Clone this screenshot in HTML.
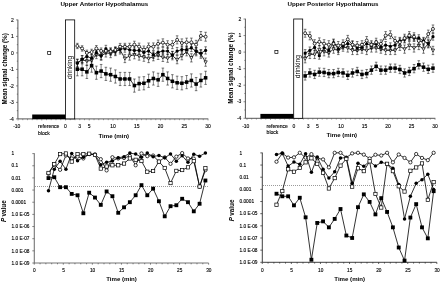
<!DOCTYPE html>
<html><head><meta charset="utf-8"><title>Hypothalamus signal change</title>
<style>html,body{margin:0;padding:0;background:#fff}body{width:440px;height:282px;overflow:hidden;font-family:"Liberation Sans",sans-serif}svg{display:block;filter:blur(0.35px)}</style>
</head><body>
<svg width="440" height="282" viewBox="0 0 440 282">
<rect width="440" height="282" fill="#fff"/>
<g stroke="#444" stroke-width="0.9" fill="none">
<path d="M17.90 19.60V118.90H208.30"/>
<path d="M16.00 118.90H17.90M16.00 102.40H17.90M16.00 85.90H17.90M16.00 69.40H17.90M16.00 52.90H17.90M16.00 36.40H17.90M16.00 19.90H17.90M16.80 110.65H17.90M16.80 94.15H17.90M16.80 77.65H17.90M16.80 61.15H17.90M16.80 44.65H17.90M16.80 28.15H17.90" stroke-width="0.6"/>
<path d="M18.00 118.90v1.6M22.75 118.90v1.3M27.50 118.90v1.3M32.25 118.90v1.3M37.00 118.90v1.3M41.75 118.90v1.6M46.50 118.90v1.3M51.25 118.90v1.3M56.00 118.90v1.3M60.75 118.90v1.3M65.50 118.90v1.6M70.25 118.90v1.3M75.00 118.90v1.3M79.75 118.90v1.3M84.50 118.90v1.3M89.25 118.90v1.6M94.00 118.90v1.3M98.75 118.90v1.3M103.50 118.90v1.3M108.25 118.90v1.3M113.00 118.90v1.6M117.75 118.90v1.3M122.50 118.90v1.3M127.25 118.90v1.3M132.00 118.90v1.3M136.75 118.90v1.6M141.50 118.90v1.3M146.25 118.90v1.3M151.00 118.90v1.3M155.75 118.90v1.3M160.50 118.90v1.6M165.25 118.90v1.3M170.00 118.90v1.3M174.75 118.90v1.3M179.50 118.90v1.3M184.25 118.90v1.6M189.00 118.90v1.3M193.75 118.90v1.3M198.50 118.90v1.3M203.25 118.90v1.3M208.00 118.90v1.6" stroke-width="0.55" stroke="#555"/>
</g>
<rect x="32.20" y="114.50" width="33.3" height="4.6" fill="#000"/>
<rect x="65.50" y="19.90" width="9.20" height="99.00" fill="#fff" stroke="#000" stroke-width="0.8"/>
<text transform="translate(72.20,67.42) rotate(-90)" font-family="Liberation Sans, sans-serif" font-size="6.6" text-anchor="middle">drinking</text>
<rect x="47.68" y="51.38" width="3.04" height="3.04" fill="#fff" stroke="#000" stroke-width="0.7"/>
<text x="104.3" y="6.05" font-family="Liberation Sans, sans-serif" font-size="6.2" font-weight="bold" text-anchor="middle">Upper Anterior Hypothalamus</text>
<text transform="translate(6.50,68.91) rotate(-90)" font-family="Liberation Sans, sans-serif" font-size="6.3" font-weight="bold" text-anchor="middle">Mean signal change (%)</text>
<text x="13.90" y="120.60" font-family="Liberation Sans, sans-serif" font-size="5.0" text-anchor="end" stroke="#000" stroke-width="0.12">-4</text>
<text x="13.90" y="104.10" font-family="Liberation Sans, sans-serif" font-size="5.0" text-anchor="end" stroke="#000" stroke-width="0.12">-3</text>
<text x="13.90" y="87.60" font-family="Liberation Sans, sans-serif" font-size="5.0" text-anchor="end" stroke="#000" stroke-width="0.12">-2</text>
<text x="13.90" y="71.10" font-family="Liberation Sans, sans-serif" font-size="5.0" text-anchor="end" stroke="#000" stroke-width="0.12">-1</text>
<text x="13.90" y="54.60" font-family="Liberation Sans, sans-serif" font-size="5.0" text-anchor="end" stroke="#000" stroke-width="0.12">0</text>
<text x="13.90" y="38.10" font-family="Liberation Sans, sans-serif" font-size="5.0" text-anchor="end" stroke="#000" stroke-width="0.12">1</text>
<text x="13.90" y="21.60" font-family="Liberation Sans, sans-serif" font-size="5.0" text-anchor="end" stroke="#000" stroke-width="0.12">2</text>
<text x="16.80" y="128.30" font-family="Liberation Sans, sans-serif" font-size="5.0" text-anchor="middle" stroke="#000" stroke-width="0.12">-10</text>
<text x="65.50" y="128.30" font-family="Liberation Sans, sans-serif" font-size="5.0" text-anchor="middle" stroke="#000" stroke-width="0.12">0</text>
<text x="79.75" y="128.30" font-family="Liberation Sans, sans-serif" font-size="5.0" text-anchor="middle" stroke="#000" stroke-width="0.12">3</text>
<text x="89.25" y="128.30" font-family="Liberation Sans, sans-serif" font-size="5.0" text-anchor="middle" stroke="#000" stroke-width="0.12">5</text>
<text x="113.00" y="128.30" font-family="Liberation Sans, sans-serif" font-size="5.0" text-anchor="middle" stroke="#000" stroke-width="0.12">10</text>
<text x="136.75" y="128.30" font-family="Liberation Sans, sans-serif" font-size="5.0" text-anchor="middle" stroke="#000" stroke-width="0.12">15</text>
<text x="160.50" y="128.30" font-family="Liberation Sans, sans-serif" font-size="5.0" text-anchor="middle" stroke="#000" stroke-width="0.12">20</text>
<text x="184.25" y="128.30" font-family="Liberation Sans, sans-serif" font-size="5.0" text-anchor="middle" stroke="#000" stroke-width="0.12">25</text>
<text x="208.00" y="128.30" font-family="Liberation Sans, sans-serif" font-size="5.0" text-anchor="middle" stroke="#000" stroke-width="0.12">30</text>
<text x="38.10" y="128.30" font-family="Liberation Sans, sans-serif" font-size="5.05" stroke="#000" stroke-width="0.12">reference</text>
<text x="38.10" y="134.80" font-family="Liberation Sans, sans-serif" font-size="5.05" stroke="#000" stroke-width="0.12">block</text>
<text x="113.80" y="137.50" font-family="Liberation Sans, sans-serif" font-size="6.1" font-weight="bold" text-anchor="middle">Time (min)</text>
<path d="M77.38 62.63V75.83M76.08 62.63h2.6M76.08 75.83h2.6M82.12 62.63V75.83M80.83 62.63h2.6M80.83 75.83h2.6M86.88 65.28V78.47M85.58 65.28h2.6M85.58 78.47h2.6M91.62 59.01V72.20M90.33 59.01h2.6M90.33 72.20h2.6M96.38 66.10V79.30M95.08 66.10h2.6M95.08 79.30h2.6M101.12 64.45V77.65M99.83 64.45h2.6M99.83 77.65h2.6M105.88 67.26V80.45M104.58 67.26h2.6M104.58 80.45h2.6M110.62 68.08V81.28M109.33 68.08h2.6M109.33 81.28h2.6M115.38 69.90V83.09M114.08 69.90h2.6M114.08 83.09h2.6M120.12 72.37V85.57M118.83 72.37h2.6M118.83 85.57h2.6M124.88 72.37V85.57M123.58 72.37h2.6M123.58 85.57h2.6M129.62 72.37V85.57M128.32 72.37h2.6M128.32 85.57h2.6M134.38 78.97V92.17M133.07 78.97h2.6M133.07 92.17h2.6M139.12 76.99V90.19M137.82 76.99h2.6M137.82 90.19h2.6M143.88 76.66V89.86M142.57 76.66h2.6M142.57 89.86h2.6M148.62 74.19V87.38M147.32 74.19h2.6M147.32 87.38h2.6M153.38 71.88V85.07M152.07 71.88h2.6M152.07 85.07h2.6M158.12 73.20V86.39M156.82 73.20h2.6M156.82 86.39h2.6M162.88 68.08V81.28M161.57 68.08h2.6M161.57 81.28h2.6M167.62 71.88V85.07M166.32 71.88h2.6M166.32 85.07h2.6M172.38 74.68V87.88M171.07 74.68h2.6M171.07 87.88h2.6M177.12 76.17V89.36M175.82 76.17h2.6M175.82 89.36h2.6M181.88 76.66V89.86M180.57 76.66h2.6M180.57 89.86h2.6M186.62 75.51V88.70M185.32 75.51h2.6M185.32 88.70h2.6M191.38 73.86V87.05M190.07 73.86h2.6M190.07 87.05h2.6M196.12 77.48V90.68M194.82 77.48h2.6M194.82 90.68h2.6M200.88 73.86V87.05M199.57 73.86h2.6M199.57 87.05h2.6M205.62 71.22V84.41M204.32 71.22h2.6M204.32 84.41h2.6" stroke="#000" stroke-width="0.5" fill="none"/>
<polyline points="77.38,69.23 82.12,69.23 86.88,71.88 91.62,65.61 96.38,72.70 101.12,71.05 105.88,73.86 110.62,74.68 115.38,76.50 120.12,78.97 124.88,78.97 129.62,78.97 134.38,85.57 139.12,83.59 143.88,83.26 148.62,80.78 153.38,78.47 158.12,79.80 162.88,74.68 167.62,78.47 172.38,81.28 177.12,82.77 181.88,83.26 186.62,82.11 191.38,80.45 196.12,84.08 200.88,80.45 205.62,77.81" fill="none" stroke="#000" stroke-width="0.8"/>
<rect x="75.61" y="67.47" width="3.52" height="3.52" fill="#000"/>
<rect x="80.36" y="67.47" width="3.52" height="3.52" fill="#000"/>
<rect x="85.11" y="70.11" width="3.52" height="3.52" fill="#000"/>
<rect x="89.86" y="63.85" width="3.52" height="3.52" fill="#000"/>
<rect x="94.61" y="70.94" width="3.52" height="3.52" fill="#000"/>
<rect x="99.36" y="69.29" width="3.52" height="3.52" fill="#000"/>
<rect x="104.11" y="72.09" width="3.52" height="3.52" fill="#000"/>
<rect x="108.86" y="72.92" width="3.52" height="3.52" fill="#000"/>
<rect x="113.61" y="74.73" width="3.52" height="3.52" fill="#000"/>
<rect x="118.36" y="77.21" width="3.52" height="3.52" fill="#000"/>
<rect x="123.11" y="77.21" width="3.52" height="3.52" fill="#000"/>
<rect x="127.86" y="77.21" width="3.52" height="3.52" fill="#000"/>
<rect x="132.62" y="83.81" width="3.52" height="3.52" fill="#000"/>
<rect x="137.37" y="81.83" width="3.52" height="3.52" fill="#000"/>
<rect x="142.12" y="81.50" width="3.52" height="3.52" fill="#000"/>
<rect x="146.87" y="79.02" width="3.52" height="3.52" fill="#000"/>
<rect x="151.62" y="76.71" width="3.52" height="3.52" fill="#000"/>
<rect x="156.37" y="78.03" width="3.52" height="3.52" fill="#000"/>
<rect x="161.12" y="72.92" width="3.52" height="3.52" fill="#000"/>
<rect x="165.87" y="76.71" width="3.52" height="3.52" fill="#000"/>
<rect x="170.62" y="79.52" width="3.52" height="3.52" fill="#000"/>
<rect x="175.37" y="81.00" width="3.52" height="3.52" fill="#000"/>
<rect x="180.12" y="81.50" width="3.52" height="3.52" fill="#000"/>
<rect x="184.87" y="80.34" width="3.52" height="3.52" fill="#000"/>
<rect x="189.62" y="78.69" width="3.52" height="3.52" fill="#000"/>
<rect x="194.37" y="82.32" width="3.52" height="3.52" fill="#000"/>
<rect x="199.12" y="78.69" width="3.52" height="3.52" fill="#000"/>
<rect x="203.87" y="76.05" width="3.52" height="3.52" fill="#000"/>
<path d="M77.38 59.00V67.25M76.08 59.00h2.6M76.08 67.25h2.6M82.12 55.70V63.95M80.83 55.70h2.6M80.83 63.95h2.6M86.88 57.02V65.28M85.58 57.02h2.6M85.58 65.28h2.6M91.62 56.20V64.45M90.33 56.20h2.6M90.33 64.45h2.6M96.38 50.42V58.67M95.08 50.42h2.6M95.08 58.67h2.6M101.12 52.07V60.32M99.83 52.07h2.6M99.83 60.32h2.6M105.88 48.77V57.02M104.58 48.77h2.6M104.58 57.02h2.6M110.62 49.43V57.68M109.33 49.43h2.6M109.33 57.68h2.6M115.38 47.45V55.70M114.08 47.45h2.6M114.08 55.70h2.6M120.12 45.80V54.05M118.83 45.80h2.6M118.83 54.05h2.6M124.88 54.38V62.63M123.58 54.38h2.6M123.58 62.63h2.6M129.62 51.91V60.16M128.32 51.91h2.6M128.32 60.16h2.6M134.38 50.59V58.84M133.07 50.59h2.6M133.07 58.84h2.6M139.12 51.91V60.16M137.82 51.91h2.6M137.82 60.16h2.6M143.88 53.06V61.31M142.57 53.06h2.6M142.57 61.31h2.6M148.62 54.38V62.63M147.32 54.38h2.6M147.32 62.63h2.6M153.38 52.57V60.82M152.07 52.57h2.6M152.07 60.82h2.6M158.12 51.25V59.50M156.82 51.25h2.6M156.82 59.50h2.6M162.88 53.23V61.48M161.57 53.23h2.6M161.57 61.48h2.6M167.62 54.05V62.30M166.32 54.05h2.6M166.32 62.30h2.6M172.38 51.58V59.83M171.07 51.58h2.6M171.07 59.83h2.6M177.12 55.54V63.79M175.82 55.54h2.6M175.82 63.79h2.6M181.88 51.58V59.83M180.57 51.58h2.6M180.57 59.83h2.6M186.62 47.62V55.87M185.32 47.62h2.6M185.32 55.87h2.6M191.38 53.73V61.98M190.07 53.73h2.6M190.07 61.98h2.6M196.12 47.62V55.87M194.82 47.62h2.6M194.82 55.87h2.6M200.88 50.09V58.34M199.57 50.09h2.6M199.57 58.34h2.6M205.62 58.02V66.27M204.32 58.02h2.6M204.32 66.27h2.6" stroke="#000" stroke-width="0.5" fill="none"/>
<polyline points="77.38,63.13 82.12,59.83 86.88,61.15 91.62,60.32 96.38,54.55 101.12,56.20 105.88,52.90 110.62,53.56 115.38,51.58 120.12,49.93 124.88,58.51 129.62,56.03 134.38,54.71 139.12,56.03 143.88,57.19 148.62,58.51 153.38,56.70 158.12,55.38 162.88,57.35 167.62,58.18 172.38,55.70 177.12,59.66 181.88,55.70 186.62,51.74 191.38,57.85 196.12,51.74 200.88,54.22 205.62,62.14" fill="none" stroke="#000" stroke-width="0.8"/>
<path d="M75.74 61.82L79.01 61.82L77.38 64.76Z" fill="#fff" stroke="#000" stroke-width="0.7"/>
<path d="M80.49 58.52L83.76 58.52L82.12 61.46Z" fill="#fff" stroke="#000" stroke-width="0.7"/>
<path d="M85.24 59.84L88.51 59.84L86.88 62.78Z" fill="#fff" stroke="#000" stroke-width="0.7"/>
<path d="M89.99 59.02L93.26 59.02L91.62 61.96Z" fill="#fff" stroke="#000" stroke-width="0.7"/>
<path d="M94.74 53.24L98.01 53.24L96.38 56.18Z" fill="#fff" stroke="#000" stroke-width="0.7"/>
<path d="M99.49 54.89L102.76 54.89L101.12 57.83Z" fill="#fff" stroke="#000" stroke-width="0.7"/>
<path d="M104.24 51.59L107.51 51.59L105.88 54.53Z" fill="#fff" stroke="#000" stroke-width="0.7"/>
<path d="M108.99 52.25L112.26 52.25L110.62 55.19Z" fill="#fff" stroke="#000" stroke-width="0.7"/>
<path d="M113.74 50.27L117.01 50.27L115.38 53.21Z" fill="#fff" stroke="#000" stroke-width="0.7"/>
<path d="M118.49 48.62L121.76 48.62L120.12 51.56Z" fill="#fff" stroke="#000" stroke-width="0.7"/>
<path d="M123.24 57.20L126.51 57.20L124.88 60.14Z" fill="#fff" stroke="#000" stroke-width="0.7"/>
<path d="M127.99 54.73L131.26 54.73L129.62 57.67Z" fill="#fff" stroke="#000" stroke-width="0.7"/>
<path d="M132.74 53.41L136.01 53.41L134.38 56.35Z" fill="#fff" stroke="#000" stroke-width="0.7"/>
<path d="M137.49 54.73L140.76 54.73L139.12 57.67Z" fill="#fff" stroke="#000" stroke-width="0.7"/>
<path d="M142.24 55.88L145.51 55.88L143.88 58.82Z" fill="#fff" stroke="#000" stroke-width="0.7"/>
<path d="M146.99 57.20L150.26 57.20L148.62 60.14Z" fill="#fff" stroke="#000" stroke-width="0.7"/>
<path d="M151.74 55.39L155.01 55.39L153.38 58.33Z" fill="#fff" stroke="#000" stroke-width="0.7"/>
<path d="M156.49 54.07L159.76 54.07L158.12 57.01Z" fill="#fff" stroke="#000" stroke-width="0.7"/>
<path d="M161.24 56.05L164.51 56.05L162.88 58.99Z" fill="#fff" stroke="#000" stroke-width="0.7"/>
<path d="M165.99 56.87L169.26 56.87L167.62 59.81Z" fill="#fff" stroke="#000" stroke-width="0.7"/>
<path d="M170.74 54.40L174.01 54.40L172.38 57.34Z" fill="#fff" stroke="#000" stroke-width="0.7"/>
<path d="M175.49 58.36L178.76 58.36L177.12 61.30Z" fill="#fff" stroke="#000" stroke-width="0.7"/>
<path d="M180.24 54.40L183.51 54.40L181.88 57.34Z" fill="#fff" stroke="#000" stroke-width="0.7"/>
<path d="M184.99 50.44L188.26 50.44L186.62 53.38Z" fill="#fff" stroke="#000" stroke-width="0.7"/>
<path d="M189.74 56.54L193.01 56.54L191.38 59.48Z" fill="#fff" stroke="#000" stroke-width="0.7"/>
<path d="M194.49 50.44L197.76 50.44L196.12 53.38Z" fill="#fff" stroke="#000" stroke-width="0.7"/>
<path d="M199.24 52.91L202.51 52.91L200.88 55.85Z" fill="#fff" stroke="#000" stroke-width="0.7"/>
<path d="M203.99 60.83L207.26 60.83L205.62 63.77Z" fill="#fff" stroke="#000" stroke-width="0.7"/>
<path d="M77.38 59.50V66.76M76.08 59.50h2.6M76.08 66.76h2.6M82.12 55.54V62.80M80.83 55.54h2.6M80.83 62.80h2.6M86.88 52.90V60.16M85.58 52.90h2.6M85.58 60.16h2.6M91.62 54.55V61.81M90.33 54.55h2.6M90.33 61.81h2.6M96.38 48.94V56.20M95.08 48.94h2.6M95.08 56.20h2.6M101.12 52.24V59.50M99.83 52.24h2.6M99.83 59.50h2.6M105.88 45.31V52.57M104.58 45.31h2.6M104.58 52.57h2.6M110.62 47.95V55.21M109.33 47.95h2.6M109.33 55.21h2.6M115.38 47.62V54.88M114.08 47.62h2.6M114.08 54.88h2.6M120.12 45.47V52.73M118.83 45.47h2.6M118.83 52.73h2.6M124.88 44.98V52.24M123.58 44.98h2.6M123.58 52.24h2.6M129.62 46.13V53.40M128.32 46.13h2.6M128.32 53.40h2.6M134.38 46.79V54.05M133.07 46.79h2.6M133.07 54.05h2.6M139.12 46.79V54.05M137.82 46.79h2.6M137.82 54.05h2.6M143.88 48.61V55.87M142.57 48.61h2.6M142.57 55.87h2.6M148.62 47.45V54.72M147.32 47.45h2.6M147.32 54.72h2.6M153.38 51.08V58.34M152.07 51.08h2.6M152.07 58.34h2.6M158.12 48.61V55.87M156.82 48.61h2.6M156.82 55.87h2.6M162.88 47.45V54.72M161.57 47.45h2.6M161.57 54.72h2.6M167.62 47.45V54.72M166.32 47.45h2.6M166.32 54.72h2.6M172.38 51.25V58.51M171.07 51.25h2.6M171.07 58.51h2.6M177.12 47.45V54.72M175.82 47.45h2.6M175.82 54.72h2.6M181.88 45.97V53.23M180.57 45.97h2.6M180.57 53.23h2.6M186.62 45.97V53.23M185.32 45.97h2.6M185.32 53.23h2.6M191.38 44.32V51.58M190.07 44.32h2.6M190.07 51.58h2.6M196.12 47.45V54.72M194.82 47.45h2.6M194.82 54.72h2.6M200.88 49.60V56.86M199.57 49.60h2.6M199.57 56.86h2.6M205.62 46.79V54.05M204.32 46.79h2.6M204.32 54.05h2.6" stroke="#000" stroke-width="0.5" fill="none"/>
<polyline points="77.38,63.13 82.12,59.17 86.88,56.53 91.62,58.18 96.38,52.57 101.12,55.87 105.88,48.94 110.62,51.58 115.38,51.25 120.12,49.10 124.88,48.61 129.62,49.77 134.38,50.42 139.12,50.42 143.88,52.24 148.62,51.09 153.38,54.71 158.12,52.24 162.88,51.09 167.62,51.09 172.38,54.88 177.12,51.09 181.88,49.60 186.62,49.60 191.38,47.95 196.12,51.09 200.88,53.23 205.62,50.42" fill="none" stroke="#000" stroke-width="0.8"/>
<circle cx="77.38" cy="63.13" r="1.60" fill="#000"/>
<circle cx="82.12" cy="59.17" r="1.60" fill="#000"/>
<circle cx="86.88" cy="56.53" r="1.60" fill="#000"/>
<circle cx="91.62" cy="58.18" r="1.60" fill="#000"/>
<circle cx="96.38" cy="52.57" r="1.60" fill="#000"/>
<circle cx="101.12" cy="55.87" r="1.60" fill="#000"/>
<circle cx="105.88" cy="48.94" r="1.60" fill="#000"/>
<circle cx="110.62" cy="51.58" r="1.60" fill="#000"/>
<circle cx="115.38" cy="51.25" r="1.60" fill="#000"/>
<circle cx="120.12" cy="49.10" r="1.60" fill="#000"/>
<circle cx="124.88" cy="48.61" r="1.60" fill="#000"/>
<circle cx="129.62" cy="49.77" r="1.60" fill="#000"/>
<circle cx="134.38" cy="50.42" r="1.60" fill="#000"/>
<circle cx="139.12" cy="50.42" r="1.60" fill="#000"/>
<circle cx="143.88" cy="52.24" r="1.60" fill="#000"/>
<circle cx="148.62" cy="51.09" r="1.60" fill="#000"/>
<circle cx="153.38" cy="54.71" r="1.60" fill="#000"/>
<circle cx="158.12" cy="52.24" r="1.60" fill="#000"/>
<circle cx="162.88" cy="51.09" r="1.60" fill="#000"/>
<circle cx="167.62" cy="51.09" r="1.60" fill="#000"/>
<circle cx="172.38" cy="54.88" r="1.60" fill="#000"/>
<circle cx="177.12" cy="51.09" r="1.60" fill="#000"/>
<circle cx="181.88" cy="49.60" r="1.60" fill="#000"/>
<circle cx="186.62" cy="49.60" r="1.60" fill="#000"/>
<circle cx="191.38" cy="47.95" r="1.60" fill="#000"/>
<circle cx="196.12" cy="51.09" r="1.60" fill="#000"/>
<circle cx="200.88" cy="53.23" r="1.60" fill="#000"/>
<circle cx="205.62" cy="50.42" r="1.60" fill="#000"/>
<path d="M77.38 43.33V48.61M76.08 43.33h2.6M76.08 48.61h2.6M82.12 45.74V51.15M80.83 45.74h2.6M80.83 51.15h2.6M86.88 50.13V55.67M85.58 50.13h2.6M85.58 55.67h2.6M91.62 49.24V54.91M90.33 49.24h2.6M90.33 54.91h2.6M96.38 45.54V51.35M95.08 45.54h2.6M95.08 51.35h2.6M101.12 47.95V53.89M99.83 47.95h2.6M99.83 53.89h2.6M105.88 47.88V53.96M104.58 47.88h2.6M104.58 53.96h2.6M110.62 48.13V54.37M109.33 48.13h2.6M109.33 54.37h2.6M115.38 46.75V53.11M114.08 46.75h2.6M114.08 53.11h2.6M120.12 43.38V49.88M118.83 43.38h2.6M118.83 49.88h2.6M124.88 43.31V49.95M123.58 43.31h2.6M123.58 49.95h2.6M129.62 43.25V50.01M128.32 43.25h2.6M128.32 50.01h2.6M134.38 41.20V48.10M133.07 41.20h2.6M133.07 48.10h2.6M139.12 43.12V50.14M137.82 43.12h2.6M137.82 50.14h2.6M143.88 46.02V53.18M142.57 46.02h2.6M142.57 53.18h2.6M148.62 42.98V50.28M147.32 42.98h2.6M147.32 50.28h2.6M153.38 42.92V50.34M152.07 42.92h2.6M152.07 50.34h2.6M158.12 40.05V47.60M156.82 40.05h2.6M156.82 47.60h2.6M162.88 38.83V46.51M161.57 38.83h2.6M161.57 46.51h2.6M167.62 40.74V48.56M166.32 40.74h2.6M166.32 48.56h2.6M172.38 40.67V48.63M171.07 40.67h2.6M171.07 48.63h2.6M177.12 35.81V43.92M175.82 35.81h2.6M175.82 43.92h2.6M181.88 38.88V47.12M180.57 38.88h2.6M180.57 47.12h2.6M186.62 38.15V46.53M185.32 38.15h2.6M185.32 46.53h2.6M191.38 38.08V46.60M190.07 38.08h2.6M190.07 46.60h2.6M196.12 40.33V48.97M194.82 40.33h2.6M194.82 48.97h2.6M200.88 31.52V40.29M199.57 31.52h2.6M199.57 40.29h2.6M205.62 32.28V41.19M204.32 32.28h2.6M204.32 41.19h2.6" stroke="#000" stroke-width="0.5" fill="none"/>
<polyline points="77.38,45.97 82.12,48.45 86.88,52.90 91.62,52.07 96.38,48.45 101.12,50.92 105.88,50.92 110.62,51.25 115.38,49.93 120.12,46.63 124.88,46.63 129.62,46.63 134.38,44.65 139.12,46.63 143.88,49.60 148.62,46.63 153.38,46.63 158.12,43.82 162.88,42.67 167.62,44.65 172.38,44.65 177.12,39.86 181.88,43.00 186.62,42.34 191.38,42.34 196.12,44.65 200.88,35.91 205.62,36.73" fill="none" stroke="#000" stroke-width="0.8"/>
<circle cx="77.38" cy="45.97" r="1.50" fill="#fff" stroke="#000" stroke-width="0.75"/>
<circle cx="82.12" cy="48.45" r="1.50" fill="#fff" stroke="#000" stroke-width="0.75"/>
<circle cx="86.88" cy="52.90" r="1.50" fill="#fff" stroke="#000" stroke-width="0.75"/>
<circle cx="91.62" cy="52.07" r="1.50" fill="#fff" stroke="#000" stroke-width="0.75"/>
<circle cx="96.38" cy="48.45" r="1.50" fill="#fff" stroke="#000" stroke-width="0.75"/>
<circle cx="101.12" cy="50.92" r="1.50" fill="#fff" stroke="#000" stroke-width="0.75"/>
<circle cx="105.88" cy="50.92" r="1.50" fill="#fff" stroke="#000" stroke-width="0.75"/>
<circle cx="110.62" cy="51.25" r="1.50" fill="#fff" stroke="#000" stroke-width="0.75"/>
<circle cx="115.38" cy="49.93" r="1.50" fill="#fff" stroke="#000" stroke-width="0.75"/>
<circle cx="120.12" cy="46.63" r="1.50" fill="#fff" stroke="#000" stroke-width="0.75"/>
<circle cx="124.88" cy="46.63" r="1.50" fill="#fff" stroke="#000" stroke-width="0.75"/>
<circle cx="129.62" cy="46.63" r="1.50" fill="#fff" stroke="#000" stroke-width="0.75"/>
<circle cx="134.38" cy="44.65" r="1.50" fill="#fff" stroke="#000" stroke-width="0.75"/>
<circle cx="139.12" cy="46.63" r="1.50" fill="#fff" stroke="#000" stroke-width="0.75"/>
<circle cx="143.88" cy="49.60" r="1.50" fill="#fff" stroke="#000" stroke-width="0.75"/>
<circle cx="148.62" cy="46.63" r="1.50" fill="#fff" stroke="#000" stroke-width="0.75"/>
<circle cx="153.38" cy="46.63" r="1.50" fill="#fff" stroke="#000" stroke-width="0.75"/>
<circle cx="158.12" cy="43.82" r="1.50" fill="#fff" stroke="#000" stroke-width="0.75"/>
<circle cx="162.88" cy="42.67" r="1.50" fill="#fff" stroke="#000" stroke-width="0.75"/>
<circle cx="167.62" cy="44.65" r="1.50" fill="#fff" stroke="#000" stroke-width="0.75"/>
<circle cx="172.38" cy="44.65" r="1.50" fill="#fff" stroke="#000" stroke-width="0.75"/>
<circle cx="177.12" cy="39.86" r="1.50" fill="#fff" stroke="#000" stroke-width="0.75"/>
<circle cx="181.88" cy="43.00" r="1.50" fill="#fff" stroke="#000" stroke-width="0.75"/>
<circle cx="186.62" cy="42.34" r="1.50" fill="#fff" stroke="#000" stroke-width="0.75"/>
<circle cx="191.38" cy="42.34" r="1.50" fill="#fff" stroke="#000" stroke-width="0.75"/>
<circle cx="196.12" cy="44.65" r="1.50" fill="#fff" stroke="#000" stroke-width="0.75"/>
<circle cx="200.88" cy="35.91" r="1.50" fill="#fff" stroke="#000" stroke-width="0.75"/>
<circle cx="205.62" cy="36.73" r="1.50" fill="#fff" stroke="#000" stroke-width="0.75"/>
<g stroke="#444" stroke-width="0.9" fill="none">
<path d="M245.40 18.70V118.30H435.30"/>
<path d="M243.50 118.30H245.40M243.50 101.75H245.40M243.50 85.20H245.40M243.50 68.65H245.40M243.50 52.10H245.40M243.50 35.55H245.40M243.50 19.00H245.40M244.30 110.03H245.40M244.30 93.47H245.40M244.30 76.93H245.40M244.30 60.38H245.40M244.30 43.83H245.40M244.30 27.27H245.40" stroke-width="0.6"/>
<path d="M247.00 118.30v1.6M251.70 118.30v1.3M256.40 118.30v1.3M261.10 118.30v1.3M265.80 118.30v1.3M270.50 118.30v1.6M275.20 118.30v1.3M279.90 118.30v1.3M284.60 118.30v1.3M289.30 118.30v1.3M294.00 118.30v1.6M298.70 118.30v1.3M303.40 118.30v1.3M308.10 118.30v1.3M312.80 118.30v1.3M317.50 118.30v1.6M322.20 118.30v1.3M326.90 118.30v1.3M331.60 118.30v1.3M336.30 118.30v1.3M341.00 118.30v1.6M345.70 118.30v1.3M350.40 118.30v1.3M355.10 118.30v1.3M359.80 118.30v1.3M364.50 118.30v1.6M369.20 118.30v1.3M373.90 118.30v1.3M378.60 118.30v1.3M383.30 118.30v1.3M388.00 118.30v1.6M392.70 118.30v1.3M397.40 118.30v1.3M402.10 118.30v1.3M406.80 118.30v1.3M411.50 118.30v1.6M416.20 118.30v1.3M420.90 118.30v1.3M425.60 118.30v1.3M430.30 118.30v1.3M435.00 118.30v1.6" stroke-width="0.55" stroke="#555"/>
</g>
<rect x="260.40" y="113.90" width="33.3" height="4.6" fill="#000"/>
<rect x="293.70" y="19.00" width="9.00" height="99.30" fill="#fff" stroke="#000" stroke-width="0.8"/>
<text transform="translate(300.30,66.66) rotate(-90)" font-family="Liberation Sans, sans-serif" font-size="6.6" text-anchor="middle">drinking</text>
<rect x="274.88" y="50.58" width="3.04" height="3.04" fill="#fff" stroke="#000" stroke-width="0.7"/>
<text x="333.0" y="6.05" font-family="Liberation Sans, sans-serif" font-size="6.2" font-weight="bold" text-anchor="middle">Upper Posterior Hypothalamus</text>
<text transform="translate(233.30,68.15) rotate(-90)" font-family="Liberation Sans, sans-serif" font-size="6.3" font-weight="bold" text-anchor="middle">Mean signal change (%)</text>
<text x="241.40" y="120.00" font-family="Liberation Sans, sans-serif" font-size="5.0" text-anchor="end" stroke="#000" stroke-width="0.12">-4</text>
<text x="241.40" y="103.45" font-family="Liberation Sans, sans-serif" font-size="5.0" text-anchor="end" stroke="#000" stroke-width="0.12">-3</text>
<text x="241.40" y="86.90" font-family="Liberation Sans, sans-serif" font-size="5.0" text-anchor="end" stroke="#000" stroke-width="0.12">-2</text>
<text x="241.40" y="70.35" font-family="Liberation Sans, sans-serif" font-size="5.0" text-anchor="end" stroke="#000" stroke-width="0.12">-1</text>
<text x="241.40" y="53.80" font-family="Liberation Sans, sans-serif" font-size="5.0" text-anchor="end" stroke="#000" stroke-width="0.12">0</text>
<text x="241.40" y="37.25" font-family="Liberation Sans, sans-serif" font-size="5.0" text-anchor="end" stroke="#000" stroke-width="0.12">1</text>
<text x="241.40" y="20.70" font-family="Liberation Sans, sans-serif" font-size="5.0" text-anchor="end" stroke="#000" stroke-width="0.12">2</text>
<text x="245.80" y="127.70" font-family="Liberation Sans, sans-serif" font-size="5.0" text-anchor="middle" stroke="#000" stroke-width="0.12">-10</text>
<text x="294.00" y="127.70" font-family="Liberation Sans, sans-serif" font-size="5.0" text-anchor="middle" stroke="#000" stroke-width="0.12">0</text>
<text x="308.10" y="127.70" font-family="Liberation Sans, sans-serif" font-size="5.0" text-anchor="middle" stroke="#000" stroke-width="0.12">3</text>
<text x="317.50" y="127.70" font-family="Liberation Sans, sans-serif" font-size="5.0" text-anchor="middle" stroke="#000" stroke-width="0.12">5</text>
<text x="341.00" y="127.70" font-family="Liberation Sans, sans-serif" font-size="5.0" text-anchor="middle" stroke="#000" stroke-width="0.12">10</text>
<text x="364.50" y="127.70" font-family="Liberation Sans, sans-serif" font-size="5.0" text-anchor="middle" stroke="#000" stroke-width="0.12">15</text>
<text x="388.00" y="127.70" font-family="Liberation Sans, sans-serif" font-size="5.0" text-anchor="middle" stroke="#000" stroke-width="0.12">20</text>
<text x="411.50" y="127.70" font-family="Liberation Sans, sans-serif" font-size="5.0" text-anchor="middle" stroke="#000" stroke-width="0.12">25</text>
<text x="435.00" y="127.70" font-family="Liberation Sans, sans-serif" font-size="5.0" text-anchor="middle" stroke="#000" stroke-width="0.12">30</text>
<text x="266.60" y="127.70" font-family="Liberation Sans, sans-serif" font-size="5.05" stroke="#000" stroke-width="0.12">reference</text>
<text x="266.60" y="134.20" font-family="Liberation Sans, sans-serif" font-size="5.05" stroke="#000" stroke-width="0.12">block</text>
<text x="341.80" y="136.90" font-family="Liberation Sans, sans-serif" font-size="6.1" font-weight="bold" text-anchor="middle">Time (min)</text>
<path d="M305.14 71.79V80.07M303.84 71.79h2.6M303.84 80.07h2.6M309.87 68.82V77.09M308.57 68.82h2.6M308.57 77.09h2.6M314.61 70.30V78.58M313.31 70.30h2.6M313.31 78.58h2.6M319.34 67.99V76.26M318.04 67.99h2.6M318.04 76.26h2.6M324.08 68.32V76.59M322.78 68.32h2.6M322.78 76.59h2.6M328.81 69.48V77.75M327.51 69.48h2.6M327.51 77.75h2.6M333.55 69.48V77.75M332.25 69.48h2.6M332.25 77.75h2.6M338.28 68.32V76.59M336.98 68.32h2.6M336.98 76.59h2.6M343.02 68.82V77.09M341.72 68.82h2.6M341.72 77.09h2.6M347.75 71.13V79.41M346.45 71.13h2.6M346.45 79.41h2.6M352.49 68.82V77.09M351.19 68.82h2.6M351.19 77.09h2.6M357.22 67.33V75.60M355.92 67.33h2.6M355.92 75.60h2.6M361.96 70.30V78.58M360.66 70.30h2.6M360.66 78.58h2.6M366.69 69.48V77.75M365.39 69.48h2.6M365.39 77.75h2.6M371.43 66.00V74.28M370.13 66.00h2.6M370.13 74.28h2.6M376.16 62.20V70.47M374.86 62.20h2.6M374.86 70.47h2.6M380.90 66.00V74.28M379.60 66.00h2.6M379.60 74.28h2.6M385.63 66.00V74.28M384.33 66.00h2.6M384.33 74.28h2.6M390.37 64.02V72.29M389.07 64.02h2.6M389.07 72.29h2.6M395.10 64.02V72.29M393.80 64.02h2.6M393.80 72.29h2.6M399.84 65.34V73.62M398.54 65.34h2.6M398.54 73.62h2.6M404.57 68.82V77.09M403.27 68.82h2.6M403.27 77.09h2.6M409.31 67.33V75.60M408.01 67.33h2.6M408.01 75.60h2.6M414.04 64.51V72.79M412.74 64.51h2.6M412.74 72.79h2.6M418.78 60.71V68.98M417.48 60.71h2.6M417.48 68.98h2.6M423.51 63.02V71.30M422.21 63.02h2.6M422.21 71.30h2.6M428.25 65.17V73.45M426.95 65.17h2.6M426.95 73.45h2.6M432.98 64.02V72.29M431.68 64.02h2.6M431.68 72.29h2.6" stroke="#000" stroke-width="0.5" fill="none"/>
<polyline points="305.14,75.93 309.87,72.95 314.61,74.44 319.34,72.13 324.08,72.46 328.81,73.62 333.55,73.62 338.28,72.46 343.02,72.95 347.75,75.27 352.49,72.95 357.22,71.46 361.96,74.44 366.69,73.62 371.43,70.14 376.16,66.33 380.90,70.14 385.63,70.14 390.37,68.15 395.10,68.15 399.84,69.48 404.57,72.95 409.31,71.46 414.04,68.65 418.78,64.84 423.51,67.16 428.25,69.31 432.98,68.15" fill="none" stroke="#000" stroke-width="0.8"/>
<rect x="303.38" y="74.17" width="3.52" height="3.52" fill="#000"/>
<rect x="308.11" y="71.19" width="3.52" height="3.52" fill="#000"/>
<rect x="312.85" y="72.68" width="3.52" height="3.52" fill="#000"/>
<rect x="317.58" y="70.37" width="3.52" height="3.52" fill="#000"/>
<rect x="322.32" y="70.70" width="3.52" height="3.52" fill="#000"/>
<rect x="327.05" y="71.86" width="3.52" height="3.52" fill="#000"/>
<rect x="331.79" y="71.86" width="3.52" height="3.52" fill="#000"/>
<rect x="336.52" y="70.70" width="3.52" height="3.52" fill="#000"/>
<rect x="341.26" y="71.19" width="3.52" height="3.52" fill="#000"/>
<rect x="345.99" y="73.51" width="3.52" height="3.52" fill="#000"/>
<rect x="350.73" y="71.19" width="3.52" height="3.52" fill="#000"/>
<rect x="355.46" y="69.70" width="3.52" height="3.52" fill="#000"/>
<rect x="360.20" y="72.68" width="3.52" height="3.52" fill="#000"/>
<rect x="364.93" y="71.86" width="3.52" height="3.52" fill="#000"/>
<rect x="369.67" y="68.38" width="3.52" height="3.52" fill="#000"/>
<rect x="374.40" y="64.57" width="3.52" height="3.52" fill="#000"/>
<rect x="379.14" y="68.38" width="3.52" height="3.52" fill="#000"/>
<rect x="383.87" y="68.38" width="3.52" height="3.52" fill="#000"/>
<rect x="388.61" y="66.39" width="3.52" height="3.52" fill="#000"/>
<rect x="393.34" y="66.39" width="3.52" height="3.52" fill="#000"/>
<rect x="398.08" y="67.72" width="3.52" height="3.52" fill="#000"/>
<rect x="402.81" y="71.19" width="3.52" height="3.52" fill="#000"/>
<rect x="407.55" y="69.70" width="3.52" height="3.52" fill="#000"/>
<rect x="412.28" y="66.89" width="3.52" height="3.52" fill="#000"/>
<rect x="417.02" y="63.08" width="3.52" height="3.52" fill="#000"/>
<rect x="421.75" y="65.40" width="3.52" height="3.52" fill="#000"/>
<rect x="426.49" y="67.55" width="3.52" height="3.52" fill="#000"/>
<rect x="431.22" y="66.39" width="3.52" height="3.52" fill="#000"/>
<path d="M305.14 54.58V62.86M303.84 54.58h2.6M303.84 62.86h2.6M309.87 50.28V58.55M308.57 50.28h2.6M308.57 58.55h2.6M314.61 50.28V58.55M313.31 50.28h2.6M313.31 58.55h2.6M319.34 45.48V53.76M318.04 45.48h2.6M318.04 53.76h2.6M324.08 47.63V55.91M322.78 47.63h2.6M322.78 55.91h2.6M328.81 48.79V57.07M327.51 48.79h2.6M327.51 57.07h2.6M333.55 44.98V53.26M332.25 44.98h2.6M332.25 53.26h2.6M338.28 46.31V54.58M336.98 46.31h2.6M336.98 54.58h2.6M343.02 43.00V51.27M341.72 43.00h2.6M341.72 51.27h2.6M347.75 43.82V52.10M346.45 43.82h2.6M346.45 52.10h2.6M352.49 46.31V54.58M351.19 46.31h2.6M351.19 54.58h2.6M357.22 46.31V54.58M355.92 46.31h2.6M355.92 54.58h2.6M361.96 44.98V53.26M360.66 44.98h2.6M360.66 53.26h2.6M366.69 46.31V54.58M365.39 46.31h2.6M365.39 54.58h2.6M371.43 43.82V52.10M370.13 43.82h2.6M370.13 52.10h2.6M376.16 43.82V52.10M374.86 43.82h2.6M374.86 52.10h2.6M380.90 44.98V53.26M379.60 44.98h2.6M379.60 53.26h2.6M385.63 46.31V54.58M384.33 46.31h2.6M384.33 54.58h2.6M390.37 46.31V54.58M389.07 46.31h2.6M389.07 54.58h2.6M395.10 46.31V54.58M393.80 46.31h2.6M393.80 54.58h2.6M399.84 42.17V50.45M398.54 42.17h2.6M398.54 50.45h2.6M404.57 44.98V53.26M403.27 44.98h2.6M403.27 53.26h2.6M409.31 41.34V49.62M408.01 41.34h2.6M408.01 49.62h2.6M414.04 43.82V52.10M412.74 43.82h2.6M412.74 52.10h2.6M418.78 41.34V49.62M417.48 41.34h2.6M417.48 49.62h2.6M423.51 44.98V53.26M422.21 44.98h2.6M422.21 53.26h2.6M428.25 39.69V47.96M426.95 39.69h2.6M426.95 47.96h2.6M432.98 46.31V54.58M431.68 46.31h2.6M431.68 54.58h2.6" stroke="#000" stroke-width="0.5" fill="none"/>
<polyline points="305.14,58.72 309.87,54.42 314.61,54.42 319.34,49.62 324.08,51.77 328.81,52.93 333.55,49.12 338.28,50.45 343.02,47.14 347.75,47.96 352.49,50.45 357.22,50.45 361.96,49.12 366.69,50.45 371.43,47.96 376.16,47.96 380.90,49.12 385.63,50.45 390.37,50.45 395.10,50.45 399.84,46.31 404.57,49.12 409.31,45.48 414.04,47.96 418.78,45.48 423.51,49.12 428.25,43.83 432.98,50.45" fill="none" stroke="#000" stroke-width="0.8"/>
<path d="M303.51 57.41L306.77 57.41L305.14 60.35Z" fill="#fff" stroke="#000" stroke-width="0.7"/>
<path d="M308.24 53.11L311.50 53.11L309.87 56.05Z" fill="#fff" stroke="#000" stroke-width="0.7"/>
<path d="M312.98 53.11L316.24 53.11L314.61 56.05Z" fill="#fff" stroke="#000" stroke-width="0.7"/>
<path d="M317.71 48.31L320.97 48.31L319.34 51.25Z" fill="#fff" stroke="#000" stroke-width="0.7"/>
<path d="M322.45 50.46L325.71 50.46L324.08 53.40Z" fill="#fff" stroke="#000" stroke-width="0.7"/>
<path d="M327.18 51.62L330.44 51.62L328.81 54.56Z" fill="#fff" stroke="#000" stroke-width="0.7"/>
<path d="M331.92 47.82L335.18 47.82L333.55 50.75Z" fill="#fff" stroke="#000" stroke-width="0.7"/>
<path d="M336.65 49.14L339.91 49.14L338.28 52.08Z" fill="#fff" stroke="#000" stroke-width="0.7"/>
<path d="M341.39 45.83L344.65 45.83L343.02 48.77Z" fill="#fff" stroke="#000" stroke-width="0.7"/>
<path d="M346.12 46.66L349.38 46.66L347.75 49.59Z" fill="#fff" stroke="#000" stroke-width="0.7"/>
<path d="M350.86 49.14L354.12 49.14L352.49 52.08Z" fill="#fff" stroke="#000" stroke-width="0.7"/>
<path d="M355.59 49.14L358.85 49.14L357.22 52.08Z" fill="#fff" stroke="#000" stroke-width="0.7"/>
<path d="M360.33 47.82L363.59 47.82L361.96 50.75Z" fill="#fff" stroke="#000" stroke-width="0.7"/>
<path d="M365.06 49.14L368.32 49.14L366.69 52.08Z" fill="#fff" stroke="#000" stroke-width="0.7"/>
<path d="M369.80 46.66L373.06 46.66L371.43 49.59Z" fill="#fff" stroke="#000" stroke-width="0.7"/>
<path d="M374.53 46.66L377.79 46.66L376.16 49.59Z" fill="#fff" stroke="#000" stroke-width="0.7"/>
<path d="M379.27 47.82L382.53 47.82L380.90 50.75Z" fill="#fff" stroke="#000" stroke-width="0.7"/>
<path d="M384.00 49.14L387.26 49.14L385.63 52.08Z" fill="#fff" stroke="#000" stroke-width="0.7"/>
<path d="M388.74 49.14L392.00 49.14L390.37 52.08Z" fill="#fff" stroke="#000" stroke-width="0.7"/>
<path d="M393.47 49.14L396.73 49.14L395.10 52.08Z" fill="#fff" stroke="#000" stroke-width="0.7"/>
<path d="M398.21 45.00L401.47 45.00L399.84 47.94Z" fill="#fff" stroke="#000" stroke-width="0.7"/>
<path d="M402.94 47.82L406.20 47.82L404.57 50.75Z" fill="#fff" stroke="#000" stroke-width="0.7"/>
<path d="M407.68 44.17L410.94 44.17L409.31 47.11Z" fill="#fff" stroke="#000" stroke-width="0.7"/>
<path d="M412.41 46.66L415.67 46.66L414.04 49.59Z" fill="#fff" stroke="#000" stroke-width="0.7"/>
<path d="M417.15 44.17L420.41 44.17L418.78 47.11Z" fill="#fff" stroke="#000" stroke-width="0.7"/>
<path d="M421.88 47.82L425.14 47.82L423.51 50.75Z" fill="#fff" stroke="#000" stroke-width="0.7"/>
<path d="M426.62 42.52L429.88 42.52L428.25 45.46Z" fill="#fff" stroke="#000" stroke-width="0.7"/>
<path d="M431.35 49.14L434.61 49.14L432.98 52.08Z" fill="#fff" stroke="#000" stroke-width="0.7"/>
<path d="M305.14 49.62V56.57M303.84 49.62h2.6M303.84 56.57h2.6M309.87 46.97V53.92M308.57 46.97h2.6M308.57 53.92h2.6M314.61 43.99V50.94M313.31 43.99h2.6M313.31 50.94h2.6M319.34 52.27V59.22M318.04 52.27h2.6M318.04 59.22h2.6M324.08 44.32V51.27M322.78 44.32h2.6M322.78 51.27h2.6M328.81 46.97V53.92M327.51 46.97h2.6M327.51 53.92h2.6M333.55 39.03V45.98M332.25 39.03h2.6M332.25 45.98h2.6M338.28 45.65V52.60M336.98 45.65h2.6M336.98 52.60h2.6M343.02 42.17V49.12M341.72 42.17h2.6M341.72 49.12h2.6M347.75 40.18V47.13M346.45 40.18h2.6M346.45 47.13h2.6M352.49 41.51V48.46M351.19 41.51h2.6M351.19 48.46h2.6M357.22 44.32V51.27M355.92 44.32h2.6M355.92 51.27h2.6M361.96 43.66V50.61M360.66 43.66h2.6M360.66 50.61h2.6M366.69 40.35V47.30M365.39 40.35h2.6M365.39 47.30h2.6M371.43 42.00V48.96M370.13 42.00h2.6M370.13 48.96h2.6M376.16 40.35V47.30M374.86 40.35h2.6M374.86 47.30h2.6M380.90 43.66V50.61M379.60 43.66h2.6M379.60 50.61h2.6M385.63 41.51V48.46M384.33 41.51h2.6M384.33 48.46h2.6M390.37 42.83V49.78M389.07 42.83h2.6M389.07 49.78h2.6M395.10 41.51V48.46M393.80 41.51h2.6M393.80 48.46h2.6M399.84 37.37V44.32M398.54 37.37h2.6M398.54 44.32h2.6M404.57 36.05V43.00M403.27 36.05h2.6M403.27 43.00h2.6M409.31 33.73V40.68M408.01 33.73h2.6M408.01 40.68h2.6M414.04 34.56V41.51M412.74 34.56h2.6M412.74 41.51h2.6M418.78 34.72V41.67M417.48 34.72h2.6M417.48 41.67h2.6M423.51 37.37V44.32M422.21 37.37h2.6M422.21 44.32h2.6M428.25 40.18V47.13M426.95 40.18h2.6M426.95 47.13h2.6M432.98 33.23V40.18M431.68 33.23h2.6M431.68 40.18h2.6" stroke="#000" stroke-width="0.5" fill="none"/>
<polyline points="305.14,53.09 309.87,50.45 314.61,47.47 319.34,55.74 324.08,47.80 328.81,50.45 333.55,42.50 338.28,49.12 343.02,45.65 347.75,43.66 352.49,44.98 357.22,47.80 361.96,47.14 366.69,43.83 371.43,45.48 376.16,43.83 380.90,47.14 385.63,44.98 390.37,46.31 395.10,44.98 399.84,40.85 404.57,39.52 409.31,37.20 414.04,38.03 418.78,38.20 423.51,40.85 428.25,43.66 432.98,36.71" fill="none" stroke="#000" stroke-width="0.8"/>
<circle cx="305.14" cy="53.09" r="1.60" fill="#000"/>
<circle cx="309.87" cy="50.45" r="1.60" fill="#000"/>
<circle cx="314.61" cy="47.47" r="1.60" fill="#000"/>
<circle cx="319.34" cy="55.74" r="1.60" fill="#000"/>
<circle cx="324.08" cy="47.80" r="1.60" fill="#000"/>
<circle cx="328.81" cy="50.45" r="1.60" fill="#000"/>
<circle cx="333.55" cy="42.50" r="1.60" fill="#000"/>
<circle cx="338.28" cy="49.12" r="1.60" fill="#000"/>
<circle cx="343.02" cy="45.65" r="1.60" fill="#000"/>
<circle cx="347.75" cy="43.66" r="1.60" fill="#000"/>
<circle cx="352.49" cy="44.98" r="1.60" fill="#000"/>
<circle cx="357.22" cy="47.80" r="1.60" fill="#000"/>
<circle cx="361.96" cy="47.14" r="1.60" fill="#000"/>
<circle cx="366.69" cy="43.83" r="1.60" fill="#000"/>
<circle cx="371.43" cy="45.48" r="1.60" fill="#000"/>
<circle cx="376.16" cy="43.83" r="1.60" fill="#000"/>
<circle cx="380.90" cy="47.14" r="1.60" fill="#000"/>
<circle cx="385.63" cy="44.98" r="1.60" fill="#000"/>
<circle cx="390.37" cy="46.31" r="1.60" fill="#000"/>
<circle cx="395.10" cy="44.98" r="1.60" fill="#000"/>
<circle cx="399.84" cy="40.85" r="1.60" fill="#000"/>
<circle cx="404.57" cy="39.52" r="1.60" fill="#000"/>
<circle cx="409.31" cy="37.20" r="1.60" fill="#000"/>
<circle cx="414.04" cy="38.03" r="1.60" fill="#000"/>
<circle cx="418.78" cy="38.20" r="1.60" fill="#000"/>
<circle cx="423.51" cy="40.85" r="1.60" fill="#000"/>
<circle cx="428.25" cy="43.66" r="1.60" fill="#000"/>
<circle cx="432.98" cy="36.71" r="1.60" fill="#000"/>
<path d="M305.14 29.26V37.21M303.84 29.26h2.6M303.84 37.21h2.6M309.87 31.91V39.85M308.57 31.91h2.6M308.57 39.85h2.6M314.61 39.69V47.63M313.31 39.69h2.6M313.31 47.63h2.6M319.34 37.87V45.81M318.04 37.87h2.6M318.04 45.81h2.6M324.08 39.69V47.63M322.78 39.69h2.6M322.78 47.63h2.6M328.81 40.68V48.62M327.51 40.68h2.6M327.51 48.62h2.6M333.55 39.85V47.80M332.25 39.85h2.6M332.25 47.80h2.6M338.28 41.51V49.45M336.98 41.51h2.6M336.98 49.45h2.6M343.02 39.85V47.80M341.72 39.85h2.6M341.72 47.80h2.6M347.75 35.38V43.33M346.45 35.38h2.6M346.45 43.33h2.6M352.49 40.68V48.62M351.19 40.68h2.6M351.19 48.62h2.6M357.22 41.51V49.45M355.92 41.51h2.6M355.92 49.45h2.6M361.96 40.68V48.62M360.66 40.68h2.6M360.66 48.62h2.6M366.69 36.54V44.49M365.39 36.54h2.6M365.39 44.49h2.6M371.43 40.68V48.62M370.13 40.68h2.6M370.13 48.62h2.6M376.16 38.20V46.14M374.86 38.20h2.6M374.86 46.14h2.6M380.90 39.85V47.80M379.60 39.85h2.6M379.60 47.80h2.6M385.63 31.58V39.52M384.33 31.58h2.6M384.33 39.52h2.6M390.37 30.75V38.69M389.07 30.75h2.6M389.07 38.69h2.6M395.10 36.87V44.82M393.80 36.87h2.6M393.80 44.82h2.6M399.84 38.20V46.14M398.54 38.20h2.6M398.54 46.14h2.6M404.57 34.23V42.17M403.27 34.23h2.6M403.27 42.17h2.6M409.31 31.58V39.52M408.01 31.58h2.6M408.01 39.52h2.6M414.04 32.74V40.68M412.74 32.74h2.6M412.74 40.68h2.6M418.78 36.87V44.82M417.48 36.87h2.6M417.48 44.82h2.6M423.51 38.20V46.14M422.21 38.20h2.6M422.21 46.14h2.6M428.25 30.09V38.03M426.95 30.09h2.6M426.95 38.03h2.6M432.98 24.96V32.90M431.68 24.96h2.6M431.68 32.90h2.6" stroke="#000" stroke-width="0.5" fill="none"/>
<polyline points="305.14,33.23 309.87,35.88 314.61,43.66 319.34,41.84 324.08,43.66 328.81,44.65 333.55,43.83 338.28,45.48 343.02,43.83 347.75,39.36 352.49,44.65 357.22,45.48 361.96,44.65 366.69,40.52 371.43,44.65 376.16,42.17 380.90,43.83 385.63,35.55 390.37,34.72 395.10,40.85 399.84,42.17 404.57,38.20 409.31,35.55 414.04,36.71 418.78,40.85 423.51,42.17 428.25,34.06 432.98,28.93" fill="none" stroke="#000" stroke-width="0.8"/>
<circle cx="305.14" cy="33.23" r="1.50" fill="#fff" stroke="#000" stroke-width="0.75"/>
<circle cx="309.87" cy="35.88" r="1.50" fill="#fff" stroke="#000" stroke-width="0.75"/>
<circle cx="314.61" cy="43.66" r="1.50" fill="#fff" stroke="#000" stroke-width="0.75"/>
<circle cx="319.34" cy="41.84" r="1.50" fill="#fff" stroke="#000" stroke-width="0.75"/>
<circle cx="324.08" cy="43.66" r="1.50" fill="#fff" stroke="#000" stroke-width="0.75"/>
<circle cx="328.81" cy="44.65" r="1.50" fill="#fff" stroke="#000" stroke-width="0.75"/>
<circle cx="333.55" cy="43.83" r="1.50" fill="#fff" stroke="#000" stroke-width="0.75"/>
<circle cx="338.28" cy="45.48" r="1.50" fill="#fff" stroke="#000" stroke-width="0.75"/>
<circle cx="343.02" cy="43.83" r="1.50" fill="#fff" stroke="#000" stroke-width="0.75"/>
<circle cx="347.75" cy="39.36" r="1.50" fill="#fff" stroke="#000" stroke-width="0.75"/>
<circle cx="352.49" cy="44.65" r="1.50" fill="#fff" stroke="#000" stroke-width="0.75"/>
<circle cx="357.22" cy="45.48" r="1.50" fill="#fff" stroke="#000" stroke-width="0.75"/>
<circle cx="361.96" cy="44.65" r="1.50" fill="#fff" stroke="#000" stroke-width="0.75"/>
<circle cx="366.69" cy="40.52" r="1.50" fill="#fff" stroke="#000" stroke-width="0.75"/>
<circle cx="371.43" cy="44.65" r="1.50" fill="#fff" stroke="#000" stroke-width="0.75"/>
<circle cx="376.16" cy="42.17" r="1.50" fill="#fff" stroke="#000" stroke-width="0.75"/>
<circle cx="380.90" cy="43.83" r="1.50" fill="#fff" stroke="#000" stroke-width="0.75"/>
<circle cx="385.63" cy="35.55" r="1.50" fill="#fff" stroke="#000" stroke-width="0.75"/>
<circle cx="390.37" cy="34.72" r="1.50" fill="#fff" stroke="#000" stroke-width="0.75"/>
<circle cx="395.10" cy="40.85" r="1.50" fill="#fff" stroke="#000" stroke-width="0.75"/>
<circle cx="399.84" cy="42.17" r="1.50" fill="#fff" stroke="#000" stroke-width="0.75"/>
<circle cx="404.57" cy="38.20" r="1.50" fill="#fff" stroke="#000" stroke-width="0.75"/>
<circle cx="409.31" cy="35.55" r="1.50" fill="#fff" stroke="#000" stroke-width="0.75"/>
<circle cx="414.04" cy="36.71" r="1.50" fill="#fff" stroke="#000" stroke-width="0.75"/>
<circle cx="418.78" cy="40.85" r="1.50" fill="#fff" stroke="#000" stroke-width="0.75"/>
<circle cx="423.51" cy="42.17" r="1.50" fill="#fff" stroke="#000" stroke-width="0.75"/>
<circle cx="428.25" cy="34.06" r="1.50" fill="#fff" stroke="#000" stroke-width="0.75"/>
<circle cx="432.98" cy="28.93" r="1.50" fill="#fff" stroke="#000" stroke-width="0.75"/>
<g stroke="#767676" stroke-width="1.1" fill="none">
<path d="M34.30 153.30V263.00H208.61"/>
<path d="M32.30 153.60h2M32.30 165.75h2M32.30 177.91h2M32.30 190.06h2M32.30 202.22h2M32.30 214.38h2M32.30 226.53h2M32.30 238.69h2M32.30 250.84h2M32.30 263.00h2M34.25 263.00v1.7M40.06 263.00v1.3M45.87 263.00v1.3M51.69 263.00v1.3M57.50 263.00v1.3M63.31 263.00v1.7M69.12 263.00v1.3M74.93 263.00v1.3M80.75 263.00v1.3M86.56 263.00v1.3M92.37 263.00v1.7M98.18 263.00v1.3M103.99 263.00v1.3M109.81 263.00v1.3M115.62 263.00v1.3M121.43 263.00v1.7M127.24 263.00v1.3M133.05 263.00v1.3M138.87 263.00v1.3M144.68 263.00v1.3M150.49 263.00v1.7M156.30 263.00v1.3M162.11 263.00v1.3M167.93 263.00v1.3M173.74 263.00v1.3M179.55 263.00v1.7M185.36 263.00v1.3M191.17 263.00v1.3M196.99 263.00v1.3M202.80 263.00v1.3M208.61 263.00v1.7" stroke-width="0.7" stroke="#555"/>
<path d="M35.00 186.50H208.61" stroke-dasharray="1 1" stroke-width="0.8" stroke="#808080"/>
</g>
<text x="11.50" y="155.30" font-family="Liberation Sans, sans-serif" font-size="4.78" stroke="#000" stroke-width="0.12">1</text>
<text x="11.50" y="167.45" font-family="Liberation Sans, sans-serif" font-size="4.78" stroke="#000" stroke-width="0.12">0.1</text>
<text x="11.50" y="179.61" font-family="Liberation Sans, sans-serif" font-size="4.78" stroke="#000" stroke-width="0.12">0.01</text>
<text x="11.50" y="191.76" font-family="Liberation Sans, sans-serif" font-size="4.78" stroke="#000" stroke-width="0.12">0.001</text>
<text x="11.50" y="203.92" font-family="Liberation Sans, sans-serif" font-size="4.78" stroke="#000" stroke-width="0.12">0.0001</text>
<text x="11.50" y="216.07" font-family="Liberation Sans, sans-serif" font-size="4.78" stroke="#000" stroke-width="0.12">1.0 E-05</text>
<text x="11.50" y="228.23" font-family="Liberation Sans, sans-serif" font-size="4.78" stroke="#000" stroke-width="0.12">1.0 E-06</text>
<text x="11.50" y="240.38" font-family="Liberation Sans, sans-serif" font-size="4.78" stroke="#000" stroke-width="0.12">1.0 E-07</text>
<text x="11.50" y="252.54" font-family="Liberation Sans, sans-serif" font-size="4.78" stroke="#000" stroke-width="0.12">1.0 E-08</text>
<text x="11.50" y="264.69" font-family="Liberation Sans, sans-serif" font-size="4.78" stroke="#000" stroke-width="0.12">1.0 E-09</text>
<text x="34.45" y="272.30" font-family="Liberation Sans, sans-serif" font-size="4.75" text-anchor="middle" stroke="#000" stroke-width="0.12">0</text>
<text x="63.51" y="272.30" font-family="Liberation Sans, sans-serif" font-size="4.75" text-anchor="middle" stroke="#000" stroke-width="0.12">5</text>
<text x="92.57" y="272.30" font-family="Liberation Sans, sans-serif" font-size="4.75" text-anchor="middle" stroke="#000" stroke-width="0.12">10</text>
<text x="121.63" y="272.30" font-family="Liberation Sans, sans-serif" font-size="4.75" text-anchor="middle" stroke="#000" stroke-width="0.12">15</text>
<text x="150.69" y="272.30" font-family="Liberation Sans, sans-serif" font-size="4.75" text-anchor="middle" stroke="#000" stroke-width="0.12">20</text>
<text x="179.75" y="272.30" font-family="Liberation Sans, sans-serif" font-size="4.75" text-anchor="middle" stroke="#000" stroke-width="0.12">25</text>
<text x="208.81" y="272.30" font-family="Liberation Sans, sans-serif" font-size="4.75" text-anchor="middle" stroke="#000" stroke-width="0.12">30</text>
<text x="121.53" y="281.40" font-family="Liberation Sans, sans-serif" font-size="6.1" font-weight="bold" text-anchor="middle">Time (min)</text>
<text transform="translate(5.80,211.09) rotate(-90)" font-family="Liberation Sans, sans-serif" font-size="6.4" font-weight="bold" text-anchor="middle"><tspan font-style="italic">P</tspan><tspan dx="1.1">value</tspan></text>
<polyline points="48.48,178.07 54.29,177.22 60.10,187.20 65.92,187.20 71.73,193.90 77.54,195.24 83.35,213.27 89.16,192.69 94.98,197.56 100.79,204.87 106.60,191.47 112.41,196.22 118.22,212.78 124.04,207.30 129.85,202.19 135.66,195.24 141.47,185.13 147.28,195.24 153.10,188.67 158.91,201.21 164.72,216.31 170.53,206.20 176.34,205.23 182.16,198.77 187.97,202.19 193.78,211.32 199.59,203.77 205.40,180.50" fill="none" stroke="#000" stroke-width="0.8"/>
<rect x="46.56" y="176.14" width="3.85" height="3.85" fill="#000"/>
<rect x="52.37" y="175.29" width="3.85" height="3.85" fill="#000"/>
<rect x="58.18" y="185.28" width="3.85" height="3.85" fill="#000"/>
<rect x="63.99" y="185.28" width="3.85" height="3.85" fill="#000"/>
<rect x="69.80" y="191.98" width="3.85" height="3.85" fill="#000"/>
<rect x="75.62" y="193.32" width="3.85" height="3.85" fill="#000"/>
<rect x="81.43" y="211.34" width="3.85" height="3.85" fill="#000"/>
<rect x="87.24" y="190.76" width="3.85" height="3.85" fill="#000"/>
<rect x="93.05" y="195.63" width="3.85" height="3.85" fill="#000"/>
<rect x="98.86" y="202.94" width="3.85" height="3.85" fill="#000"/>
<rect x="104.68" y="189.54" width="3.85" height="3.85" fill="#000"/>
<rect x="110.49" y="194.29" width="3.85" height="3.85" fill="#000"/>
<rect x="116.30" y="210.86" width="3.85" height="3.85" fill="#000"/>
<rect x="122.11" y="205.38" width="3.85" height="3.85" fill="#000"/>
<rect x="127.92" y="200.26" width="3.85" height="3.85" fill="#000"/>
<rect x="133.74" y="193.32" width="3.85" height="3.85" fill="#000"/>
<rect x="139.55" y="183.21" width="3.85" height="3.85" fill="#000"/>
<rect x="145.36" y="193.32" width="3.85" height="3.85" fill="#000"/>
<rect x="151.17" y="186.74" width="3.85" height="3.85" fill="#000"/>
<rect x="156.98" y="199.29" width="3.85" height="3.85" fill="#000"/>
<rect x="162.80" y="214.39" width="3.85" height="3.85" fill="#000"/>
<rect x="168.61" y="204.28" width="3.85" height="3.85" fill="#000"/>
<rect x="174.42" y="203.31" width="3.85" height="3.85" fill="#000"/>
<rect x="180.23" y="196.85" width="3.85" height="3.85" fill="#000"/>
<rect x="186.04" y="200.26" width="3.85" height="3.85" fill="#000"/>
<rect x="191.86" y="209.40" width="3.85" height="3.85" fill="#000"/>
<rect x="197.67" y="201.84" width="3.85" height="3.85" fill="#000"/>
<rect x="203.48" y="178.58" width="3.85" height="3.85" fill="#000"/>
<polyline points="48.48,173.81 54.29,164.67 60.10,169.79 65.92,155.41 71.73,158.46 77.54,156.63 83.35,158.46 89.16,154.07 94.98,154.68 100.79,159.19 106.60,170.40 112.41,157.24 118.22,158.46 124.04,157.97 129.85,156.02 135.66,165.28 141.47,153.47 147.28,156.14 153.10,155.54 158.91,161.63 164.72,157.36 170.53,163.82 176.34,156.63 182.16,153.10 187.97,158.46 193.78,158.58 199.59,186.59 205.40,170.15" fill="none" stroke="#000" stroke-width="0.8"/>
<circle cx="48.48" cy="173.81" r="1.65" fill="#fff" stroke="#000" stroke-width="0.75"/>
<circle cx="54.29" cy="164.67" r="1.65" fill="#fff" stroke="#000" stroke-width="0.75"/>
<circle cx="60.10" cy="169.79" r="1.65" fill="#fff" stroke="#000" stroke-width="0.75"/>
<circle cx="65.92" cy="155.41" r="1.65" fill="#fff" stroke="#000" stroke-width="0.75"/>
<circle cx="71.73" cy="158.46" r="1.65" fill="#fff" stroke="#000" stroke-width="0.75"/>
<circle cx="77.54" cy="156.63" r="1.65" fill="#fff" stroke="#000" stroke-width="0.75"/>
<circle cx="83.35" cy="158.46" r="1.65" fill="#fff" stroke="#000" stroke-width="0.75"/>
<circle cx="89.16" cy="154.07" r="1.65" fill="#fff" stroke="#000" stroke-width="0.75"/>
<circle cx="94.98" cy="154.68" r="1.65" fill="#fff" stroke="#000" stroke-width="0.75"/>
<circle cx="100.79" cy="159.19" r="1.65" fill="#fff" stroke="#000" stroke-width="0.75"/>
<circle cx="106.60" cy="170.40" r="1.65" fill="#fff" stroke="#000" stroke-width="0.75"/>
<circle cx="112.41" cy="157.24" r="1.65" fill="#fff" stroke="#000" stroke-width="0.75"/>
<circle cx="118.22" cy="158.46" r="1.65" fill="#fff" stroke="#000" stroke-width="0.75"/>
<circle cx="124.04" cy="157.97" r="1.65" fill="#fff" stroke="#000" stroke-width="0.75"/>
<circle cx="129.85" cy="156.02" r="1.65" fill="#fff" stroke="#000" stroke-width="0.75"/>
<circle cx="135.66" cy="165.28" r="1.65" fill="#fff" stroke="#000" stroke-width="0.75"/>
<circle cx="141.47" cy="153.47" r="1.65" fill="#fff" stroke="#000" stroke-width="0.75"/>
<circle cx="147.28" cy="156.14" r="1.65" fill="#fff" stroke="#000" stroke-width="0.75"/>
<circle cx="153.10" cy="155.54" r="1.65" fill="#fff" stroke="#000" stroke-width="0.75"/>
<circle cx="158.91" cy="161.63" r="1.65" fill="#fff" stroke="#000" stroke-width="0.75"/>
<circle cx="164.72" cy="157.36" r="1.65" fill="#fff" stroke="#000" stroke-width="0.75"/>
<circle cx="170.53" cy="163.82" r="1.65" fill="#fff" stroke="#000" stroke-width="0.75"/>
<circle cx="176.34" cy="156.63" r="1.65" fill="#fff" stroke="#000" stroke-width="0.75"/>
<circle cx="182.16" cy="153.10" r="1.65" fill="#fff" stroke="#000" stroke-width="0.75"/>
<circle cx="187.97" cy="158.46" r="1.65" fill="#fff" stroke="#000" stroke-width="0.75"/>
<circle cx="193.78" cy="158.58" r="1.65" fill="#fff" stroke="#000" stroke-width="0.75"/>
<circle cx="199.59" cy="186.59" r="1.65" fill="#fff" stroke="#000" stroke-width="0.75"/>
<circle cx="205.40" cy="170.15" r="1.65" fill="#fff" stroke="#000" stroke-width="0.75"/>
<polyline points="48.48,190.74 54.29,169.18 60.10,161.26 65.92,169.18 71.73,153.47 77.54,160.77 83.35,157.24 89.16,154.07 94.98,154.32 100.79,164.79 106.60,162.23 112.41,161.02 118.22,157.85 124.04,156.63 129.85,153.10 135.66,154.07 141.47,157.24 147.28,153.10 153.10,156.63 158.91,155.41 164.72,157.85 170.53,153.95 176.34,161.14 182.16,155.78 187.97,162.36 193.78,154.32 199.59,156.14 205.40,153.10" fill="none" stroke="#000" stroke-width="0.8"/>
<circle cx="48.48" cy="190.74" r="1.75" fill="#000"/>
<circle cx="54.29" cy="169.18" r="1.75" fill="#000"/>
<circle cx="60.10" cy="161.26" r="1.75" fill="#000"/>
<circle cx="65.92" cy="169.18" r="1.75" fill="#000"/>
<circle cx="71.73" cy="153.47" r="1.75" fill="#000"/>
<circle cx="77.54" cy="160.77" r="1.75" fill="#000"/>
<circle cx="83.35" cy="157.24" r="1.75" fill="#000"/>
<circle cx="89.16" cy="154.07" r="1.75" fill="#000"/>
<circle cx="94.98" cy="154.32" r="1.75" fill="#000"/>
<circle cx="100.79" cy="164.79" r="1.75" fill="#000"/>
<circle cx="106.60" cy="162.23" r="1.75" fill="#000"/>
<circle cx="112.41" cy="161.02" r="1.75" fill="#000"/>
<circle cx="118.22" cy="157.85" r="1.75" fill="#000"/>
<circle cx="124.04" cy="156.63" r="1.75" fill="#000"/>
<circle cx="129.85" cy="153.10" r="1.75" fill="#000"/>
<circle cx="135.66" cy="154.07" r="1.75" fill="#000"/>
<circle cx="141.47" cy="157.24" r="1.75" fill="#000"/>
<circle cx="147.28" cy="153.10" r="1.75" fill="#000"/>
<circle cx="153.10" cy="156.63" r="1.75" fill="#000"/>
<circle cx="158.91" cy="155.41" r="1.75" fill="#000"/>
<circle cx="164.72" cy="157.85" r="1.75" fill="#000"/>
<circle cx="170.53" cy="153.95" r="1.75" fill="#000"/>
<circle cx="176.34" cy="161.14" r="1.75" fill="#000"/>
<circle cx="182.16" cy="155.78" r="1.75" fill="#000"/>
<circle cx="187.97" cy="162.36" r="1.75" fill="#000"/>
<circle cx="193.78" cy="154.32" r="1.75" fill="#000"/>
<circle cx="199.59" cy="156.14" r="1.75" fill="#000"/>
<circle cx="205.40" cy="153.10" r="1.75" fill="#000"/>
<polyline points="48.48,172.95 54.29,164.18 60.10,154.07 65.92,153.47 71.73,161.63 77.54,154.07 83.35,154.07 89.16,153.71 94.98,154.93 100.79,168.57 106.60,166.50 112.41,165.28 118.22,165.28 124.04,163.57 129.85,158.46 135.66,159.80 141.47,161.02 147.28,171.74 153.10,171.00 158.91,161.63 164.72,167.96 170.53,183.06 176.34,170.88 182.16,170.03 187.97,167.35 193.78,161.14 199.59,186.59 205.40,168.20" fill="none" stroke="#000" stroke-width="0.8"/>
<rect x="46.82" y="171.29" width="3.32" height="3.32" fill="#fff" stroke="#000" stroke-width="0.7"/>
<rect x="52.63" y="162.52" width="3.32" height="3.32" fill="#fff" stroke="#000" stroke-width="0.7"/>
<rect x="58.44" y="152.41" width="3.32" height="3.32" fill="#fff" stroke="#000" stroke-width="0.7"/>
<rect x="64.25" y="151.80" width="3.32" height="3.32" fill="#fff" stroke="#000" stroke-width="0.7"/>
<rect x="70.07" y="159.96" width="3.32" height="3.32" fill="#fff" stroke="#000" stroke-width="0.7"/>
<rect x="75.88" y="152.41" width="3.32" height="3.32" fill="#fff" stroke="#000" stroke-width="0.7"/>
<rect x="81.69" y="152.41" width="3.32" height="3.32" fill="#fff" stroke="#000" stroke-width="0.7"/>
<rect x="87.50" y="152.05" width="3.32" height="3.32" fill="#fff" stroke="#000" stroke-width="0.7"/>
<rect x="93.31" y="153.26" width="3.32" height="3.32" fill="#fff" stroke="#000" stroke-width="0.7"/>
<rect x="99.13" y="166.91" width="3.32" height="3.32" fill="#fff" stroke="#000" stroke-width="0.7"/>
<rect x="104.94" y="164.84" width="3.32" height="3.32" fill="#fff" stroke="#000" stroke-width="0.7"/>
<rect x="110.75" y="163.62" width="3.32" height="3.32" fill="#fff" stroke="#000" stroke-width="0.7"/>
<rect x="116.56" y="163.62" width="3.32" height="3.32" fill="#fff" stroke="#000" stroke-width="0.7"/>
<rect x="122.37" y="161.91" width="3.32" height="3.32" fill="#fff" stroke="#000" stroke-width="0.7"/>
<rect x="128.19" y="156.80" width="3.32" height="3.32" fill="#fff" stroke="#000" stroke-width="0.7"/>
<rect x="134.00" y="158.14" width="3.32" height="3.32" fill="#fff" stroke="#000" stroke-width="0.7"/>
<rect x="139.81" y="159.35" width="3.32" height="3.32" fill="#fff" stroke="#000" stroke-width="0.7"/>
<rect x="145.62" y="170.07" width="3.32" height="3.32" fill="#fff" stroke="#000" stroke-width="0.7"/>
<rect x="151.43" y="169.34" width="3.32" height="3.32" fill="#fff" stroke="#000" stroke-width="0.7"/>
<rect x="157.25" y="159.96" width="3.32" height="3.32" fill="#fff" stroke="#000" stroke-width="0.7"/>
<rect x="163.06" y="166.30" width="3.32" height="3.32" fill="#fff" stroke="#000" stroke-width="0.7"/>
<rect x="168.87" y="181.40" width="3.32" height="3.32" fill="#fff" stroke="#000" stroke-width="0.7"/>
<rect x="174.68" y="169.22" width="3.32" height="3.32" fill="#fff" stroke="#000" stroke-width="0.7"/>
<rect x="180.49" y="168.37" width="3.32" height="3.32" fill="#fff" stroke="#000" stroke-width="0.7"/>
<rect x="186.31" y="165.69" width="3.32" height="3.32" fill="#fff" stroke="#000" stroke-width="0.7"/>
<rect x="192.12" y="159.48" width="3.32" height="3.32" fill="#fff" stroke="#000" stroke-width="0.7"/>
<rect x="197.93" y="184.93" width="3.32" height="3.32" fill="#fff" stroke="#000" stroke-width="0.7"/>
<rect x="203.74" y="166.54" width="3.32" height="3.32" fill="#fff" stroke="#000" stroke-width="0.7"/>
<g stroke="#2a2a2a" stroke-width="0.9" fill="none">
<path d="M262.30 152.60V262.30H436.85"/>
<path d="M260.30 152.90h2M260.30 165.06h2M260.30 177.21h2M260.30 189.37h2M260.30 201.52h2M260.30 213.68h2M260.30 225.83h2M260.30 237.99h2M260.30 250.14h2M260.30 262.30h2M262.25 262.30v1.7M268.07 262.30v1.3M273.89 262.30v1.3M279.71 262.30v1.3M285.53 262.30v1.3M291.35 262.30v1.7M297.17 262.30v1.3M302.99 262.30v1.3M308.81 262.30v1.3M314.63 262.30v1.3M320.45 262.30v1.7M326.27 262.30v1.3M332.09 262.30v1.3M337.91 262.30v1.3M343.73 262.30v1.3M349.55 262.30v1.7M355.37 262.30v1.3M361.19 262.30v1.3M367.01 262.30v1.3M372.83 262.30v1.3M378.65 262.30v1.7M384.47 262.30v1.3M390.29 262.30v1.3M396.11 262.30v1.3M401.93 262.30v1.3M407.75 262.30v1.7M413.57 262.30v1.3M419.39 262.30v1.3M425.21 262.30v1.3M431.03 262.30v1.3M436.85 262.30v1.7" stroke-width="0.7" stroke="#222"/>
<path d="M263.00 185.50H436.85" stroke-dasharray="1 1" stroke-width="0.8" stroke="#808080"/>
</g>
<text x="239.50" y="154.60" font-family="Liberation Sans, sans-serif" font-size="4.78" stroke="#000" stroke-width="0.12">1</text>
<text x="239.50" y="166.75" font-family="Liberation Sans, sans-serif" font-size="4.78" stroke="#000" stroke-width="0.12">0.1</text>
<text x="239.50" y="178.91" font-family="Liberation Sans, sans-serif" font-size="4.78" stroke="#000" stroke-width="0.12">0.01</text>
<text x="239.50" y="191.06" font-family="Liberation Sans, sans-serif" font-size="4.78" stroke="#000" stroke-width="0.12">0.001</text>
<text x="239.50" y="203.22" font-family="Liberation Sans, sans-serif" font-size="4.78" stroke="#000" stroke-width="0.12">0.0001</text>
<text x="239.50" y="215.38" font-family="Liberation Sans, sans-serif" font-size="4.78" stroke="#000" stroke-width="0.12">1.0 E-05</text>
<text x="239.50" y="227.53" font-family="Liberation Sans, sans-serif" font-size="4.78" stroke="#000" stroke-width="0.12">1.0 E-06</text>
<text x="239.50" y="239.69" font-family="Liberation Sans, sans-serif" font-size="4.78" stroke="#000" stroke-width="0.12">1.0 E-07</text>
<text x="239.50" y="251.84" font-family="Liberation Sans, sans-serif" font-size="4.78" stroke="#000" stroke-width="0.12">1.0 E-08</text>
<text x="239.50" y="264.00" font-family="Liberation Sans, sans-serif" font-size="4.78" stroke="#000" stroke-width="0.12">1.0 E-09</text>
<text x="262.45" y="271.60" font-family="Liberation Sans, sans-serif" font-size="4.75" text-anchor="middle" stroke="#000" stroke-width="0.12">0</text>
<text x="291.55" y="271.60" font-family="Liberation Sans, sans-serif" font-size="4.75" text-anchor="middle" stroke="#000" stroke-width="0.12">5</text>
<text x="320.65" y="271.60" font-family="Liberation Sans, sans-serif" font-size="4.75" text-anchor="middle" stroke="#000" stroke-width="0.12">10</text>
<text x="349.75" y="271.60" font-family="Liberation Sans, sans-serif" font-size="4.75" text-anchor="middle" stroke="#000" stroke-width="0.12">15</text>
<text x="378.85" y="271.60" font-family="Liberation Sans, sans-serif" font-size="4.75" text-anchor="middle" stroke="#000" stroke-width="0.12">20</text>
<text x="407.95" y="271.60" font-family="Liberation Sans, sans-serif" font-size="4.75" text-anchor="middle" stroke="#000" stroke-width="0.12">25</text>
<text x="437.05" y="271.60" font-family="Liberation Sans, sans-serif" font-size="4.75" text-anchor="middle" stroke="#000" stroke-width="0.12">30</text>
<text x="349.65" y="280.70" font-family="Liberation Sans, sans-serif" font-size="6.1" font-weight="bold" text-anchor="middle">Time (min)</text>
<text transform="translate(233.80,210.39) rotate(-90)" font-family="Liberation Sans, sans-serif" font-size="6.4" font-weight="bold" text-anchor="middle"><tspan font-style="italic">P</tspan><tspan dx="1.1">value</tspan></text>
<polyline points="276.50,193.74 282.32,196.30 288.14,196.30 293.96,205.35 299.78,197.77 305.60,217.32 311.42,259.73 317.24,222.94 323.06,221.35 328.88,227.34 334.70,218.91 340.52,209.01 346.34,235.53 352.16,237.97 357.98,207.18 363.80,194.35 369.62,201.92 375.44,214.39 381.26,198.14 387.08,211.94 392.90,227.34 398.72,247.50 404.54,260.58 410.36,217.57 416.18,204.12 422.00,227.34 427.82,238.34 433.64,191.17" fill="none" stroke="#000" stroke-width="0.8"/>
<rect x="274.57" y="191.81" width="3.85" height="3.85" fill="#000"/>
<rect x="280.39" y="194.38" width="3.85" height="3.85" fill="#000"/>
<rect x="286.21" y="194.38" width="3.85" height="3.85" fill="#000"/>
<rect x="292.03" y="203.42" width="3.85" height="3.85" fill="#000"/>
<rect x="297.85" y="195.84" width="3.85" height="3.85" fill="#000"/>
<rect x="303.68" y="215.40" width="3.85" height="3.85" fill="#000"/>
<rect x="309.49" y="257.80" width="3.85" height="3.85" fill="#000"/>
<rect x="315.31" y="221.02" width="3.85" height="3.85" fill="#000"/>
<rect x="321.13" y="219.43" width="3.85" height="3.85" fill="#000"/>
<rect x="326.95" y="225.42" width="3.85" height="3.85" fill="#000"/>
<rect x="332.77" y="216.99" width="3.85" height="3.85" fill="#000"/>
<rect x="338.59" y="207.09" width="3.85" height="3.85" fill="#000"/>
<rect x="344.41" y="233.60" width="3.85" height="3.85" fill="#000"/>
<rect x="350.23" y="236.05" width="3.85" height="3.85" fill="#000"/>
<rect x="356.06" y="205.25" width="3.85" height="3.85" fill="#000"/>
<rect x="361.88" y="192.42" width="3.85" height="3.85" fill="#000"/>
<rect x="367.69" y="200.00" width="3.85" height="3.85" fill="#000"/>
<rect x="373.51" y="212.46" width="3.85" height="3.85" fill="#000"/>
<rect x="379.33" y="196.21" width="3.85" height="3.85" fill="#000"/>
<rect x="385.15" y="210.02" width="3.85" height="3.85" fill="#000"/>
<rect x="390.97" y="225.42" width="3.85" height="3.85" fill="#000"/>
<rect x="396.80" y="245.58" width="3.85" height="3.85" fill="#000"/>
<rect x="402.61" y="258.66" width="3.85" height="3.85" fill="#000"/>
<rect x="408.44" y="215.64" width="3.85" height="3.85" fill="#000"/>
<rect x="414.25" y="202.20" width="3.85" height="3.85" fill="#000"/>
<rect x="420.07" y="225.42" width="3.85" height="3.85" fill="#000"/>
<rect x="425.89" y="236.42" width="3.85" height="3.85" fill="#000"/>
<rect x="431.71" y="189.25" width="3.85" height="3.85" fill="#000"/>
<polyline points="276.50,161.72 282.32,153.29 288.14,157.57 293.96,157.32 299.78,152.80 305.60,157.69 311.42,154.14 317.24,158.30 323.06,159.40 328.88,167.34 334.70,152.80 340.52,152.80 346.34,157.57 352.16,153.41 357.98,152.80 363.80,154.63 369.62,158.54 375.44,154.76 381.26,155.49 387.08,152.80 392.90,162.33 398.72,154.51 404.54,157.93 410.36,162.33 416.18,154.02 422.00,157.93 427.82,160.13 433.64,152.80" fill="none" stroke="#000" stroke-width="0.8"/>
<circle cx="276.50" cy="161.72" r="1.65" fill="#fff" stroke="#000" stroke-width="0.75"/>
<circle cx="282.32" cy="153.29" r="1.65" fill="#fff" stroke="#000" stroke-width="0.75"/>
<circle cx="288.14" cy="157.57" r="1.65" fill="#fff" stroke="#000" stroke-width="0.75"/>
<circle cx="293.96" cy="157.32" r="1.65" fill="#fff" stroke="#000" stroke-width="0.75"/>
<circle cx="299.78" cy="152.80" r="1.65" fill="#fff" stroke="#000" stroke-width="0.75"/>
<circle cx="305.60" cy="157.69" r="1.65" fill="#fff" stroke="#000" stroke-width="0.75"/>
<circle cx="311.42" cy="154.14" r="1.65" fill="#fff" stroke="#000" stroke-width="0.75"/>
<circle cx="317.24" cy="158.30" r="1.65" fill="#fff" stroke="#000" stroke-width="0.75"/>
<circle cx="323.06" cy="159.40" r="1.65" fill="#fff" stroke="#000" stroke-width="0.75"/>
<circle cx="328.88" cy="167.34" r="1.65" fill="#fff" stroke="#000" stroke-width="0.75"/>
<circle cx="334.70" cy="152.80" r="1.65" fill="#fff" stroke="#000" stroke-width="0.75"/>
<circle cx="340.52" cy="152.80" r="1.65" fill="#fff" stroke="#000" stroke-width="0.75"/>
<circle cx="346.34" cy="157.57" r="1.65" fill="#fff" stroke="#000" stroke-width="0.75"/>
<circle cx="352.16" cy="153.41" r="1.65" fill="#fff" stroke="#000" stroke-width="0.75"/>
<circle cx="357.98" cy="152.80" r="1.65" fill="#fff" stroke="#000" stroke-width="0.75"/>
<circle cx="363.80" cy="154.63" r="1.65" fill="#fff" stroke="#000" stroke-width="0.75"/>
<circle cx="369.62" cy="158.54" r="1.65" fill="#fff" stroke="#000" stroke-width="0.75"/>
<circle cx="375.44" cy="154.76" r="1.65" fill="#fff" stroke="#000" stroke-width="0.75"/>
<circle cx="381.26" cy="155.49" r="1.65" fill="#fff" stroke="#000" stroke-width="0.75"/>
<circle cx="387.08" cy="152.80" r="1.65" fill="#fff" stroke="#000" stroke-width="0.75"/>
<circle cx="392.90" cy="162.33" r="1.65" fill="#fff" stroke="#000" stroke-width="0.75"/>
<circle cx="398.72" cy="154.51" r="1.65" fill="#fff" stroke="#000" stroke-width="0.75"/>
<circle cx="404.54" cy="157.93" r="1.65" fill="#fff" stroke="#000" stroke-width="0.75"/>
<circle cx="410.36" cy="162.33" r="1.65" fill="#fff" stroke="#000" stroke-width="0.75"/>
<circle cx="416.18" cy="154.02" r="1.65" fill="#fff" stroke="#000" stroke-width="0.75"/>
<circle cx="422.00" cy="157.93" r="1.65" fill="#fff" stroke="#000" stroke-width="0.75"/>
<circle cx="427.82" cy="160.13" r="1.65" fill="#fff" stroke="#000" stroke-width="0.75"/>
<circle cx="433.64" cy="152.80" r="1.65" fill="#fff" stroke="#000" stroke-width="0.75"/>
<polyline points="276.50,154.51 282.32,153.29 288.14,166.12 293.96,162.09 299.78,164.29 305.60,153.78 311.42,172.35 317.24,157.08 323.06,169.17 328.88,178.10 334.70,171.86 340.52,158.05 346.34,157.69 352.16,183.35 357.98,163.31 363.80,166.24 369.62,161.35 375.44,166.12 381.26,162.33 387.08,163.80 392.90,168.20 398.72,184.57 404.54,218.91 410.36,196.30 416.18,183.35 422.00,179.68 427.82,174.19 433.64,189.46" fill="none" stroke="#000" stroke-width="0.8"/>
<circle cx="276.50" cy="154.51" r="1.75" fill="#000"/>
<circle cx="282.32" cy="153.29" r="1.75" fill="#000"/>
<circle cx="288.14" cy="166.12" r="1.75" fill="#000"/>
<circle cx="293.96" cy="162.09" r="1.75" fill="#000"/>
<circle cx="299.78" cy="164.29" r="1.75" fill="#000"/>
<circle cx="305.60" cy="153.78" r="1.75" fill="#000"/>
<circle cx="311.42" cy="172.35" r="1.75" fill="#000"/>
<circle cx="317.24" cy="157.08" r="1.75" fill="#000"/>
<circle cx="323.06" cy="169.17" r="1.75" fill="#000"/>
<circle cx="328.88" cy="178.10" r="1.75" fill="#000"/>
<circle cx="334.70" cy="171.86" r="1.75" fill="#000"/>
<circle cx="340.52" cy="158.05" r="1.75" fill="#000"/>
<circle cx="346.34" cy="157.69" r="1.75" fill="#000"/>
<circle cx="352.16" cy="183.35" r="1.75" fill="#000"/>
<circle cx="357.98" cy="163.31" r="1.75" fill="#000"/>
<circle cx="363.80" cy="166.24" r="1.75" fill="#000"/>
<circle cx="369.62" cy="161.35" r="1.75" fill="#000"/>
<circle cx="375.44" cy="166.12" r="1.75" fill="#000"/>
<circle cx="381.26" cy="162.33" r="1.75" fill="#000"/>
<circle cx="387.08" cy="163.80" r="1.75" fill="#000"/>
<circle cx="392.90" cy="168.20" r="1.75" fill="#000"/>
<circle cx="398.72" cy="184.57" r="1.75" fill="#000"/>
<circle cx="404.54" cy="218.91" r="1.75" fill="#000"/>
<circle cx="410.36" cy="196.30" r="1.75" fill="#000"/>
<circle cx="416.18" cy="183.35" r="1.75" fill="#000"/>
<circle cx="422.00" cy="179.68" r="1.75" fill="#000"/>
<circle cx="427.82" cy="174.19" r="1.75" fill="#000"/>
<circle cx="433.64" cy="189.46" r="1.75" fill="#000"/>
<polyline points="276.50,204.74 282.32,191.05 288.14,169.30 293.96,171.74 299.78,167.95 305.60,162.33 311.42,158.30 317.24,163.80 323.06,172.72 328.88,188.48 334.70,178.10 340.52,165.63 346.34,158.91 352.16,186.65 357.98,168.32 363.80,171.13 369.62,161.35 375.44,193.98 381.26,207.55 387.08,163.80 392.90,171.13 398.72,186.28 404.54,191.54 410.36,170.76 416.18,167.46 422.00,163.43 427.82,199.85 433.64,182.13" fill="none" stroke="#000" stroke-width="0.8"/>
<rect x="274.84" y="203.07" width="3.32" height="3.32" fill="#fff" stroke="#000" stroke-width="0.7"/>
<rect x="280.66" y="189.39" width="3.32" height="3.32" fill="#fff" stroke="#000" stroke-width="0.7"/>
<rect x="286.48" y="167.63" width="3.32" height="3.32" fill="#fff" stroke="#000" stroke-width="0.7"/>
<rect x="292.30" y="170.08" width="3.32" height="3.32" fill="#fff" stroke="#000" stroke-width="0.7"/>
<rect x="298.12" y="166.29" width="3.32" height="3.32" fill="#fff" stroke="#000" stroke-width="0.7"/>
<rect x="303.94" y="160.67" width="3.32" height="3.32" fill="#fff" stroke="#000" stroke-width="0.7"/>
<rect x="309.76" y="156.64" width="3.32" height="3.32" fill="#fff" stroke="#000" stroke-width="0.7"/>
<rect x="315.58" y="162.14" width="3.32" height="3.32" fill="#fff" stroke="#000" stroke-width="0.7"/>
<rect x="321.40" y="171.06" width="3.32" height="3.32" fill="#fff" stroke="#000" stroke-width="0.7"/>
<rect x="327.22" y="186.82" width="3.32" height="3.32" fill="#fff" stroke="#000" stroke-width="0.7"/>
<rect x="333.04" y="176.43" width="3.32" height="3.32" fill="#fff" stroke="#000" stroke-width="0.7"/>
<rect x="338.86" y="163.97" width="3.32" height="3.32" fill="#fff" stroke="#000" stroke-width="0.7"/>
<rect x="344.68" y="157.25" width="3.32" height="3.32" fill="#fff" stroke="#000" stroke-width="0.7"/>
<rect x="350.50" y="184.99" width="3.32" height="3.32" fill="#fff" stroke="#000" stroke-width="0.7"/>
<rect x="356.32" y="166.66" width="3.32" height="3.32" fill="#fff" stroke="#000" stroke-width="0.7"/>
<rect x="362.14" y="169.47" width="3.32" height="3.32" fill="#fff" stroke="#000" stroke-width="0.7"/>
<rect x="367.96" y="159.69" width="3.32" height="3.32" fill="#fff" stroke="#000" stroke-width="0.7"/>
<rect x="373.78" y="192.32" width="3.32" height="3.32" fill="#fff" stroke="#000" stroke-width="0.7"/>
<rect x="379.60" y="205.88" width="3.32" height="3.32" fill="#fff" stroke="#000" stroke-width="0.7"/>
<rect x="385.42" y="162.14" width="3.32" height="3.32" fill="#fff" stroke="#000" stroke-width="0.7"/>
<rect x="391.24" y="169.47" width="3.32" height="3.32" fill="#fff" stroke="#000" stroke-width="0.7"/>
<rect x="397.06" y="184.62" width="3.32" height="3.32" fill="#fff" stroke="#000" stroke-width="0.7"/>
<rect x="402.88" y="189.87" width="3.32" height="3.32" fill="#fff" stroke="#000" stroke-width="0.7"/>
<rect x="408.70" y="169.10" width="3.32" height="3.32" fill="#fff" stroke="#000" stroke-width="0.7"/>
<rect x="414.52" y="165.80" width="3.32" height="3.32" fill="#fff" stroke="#000" stroke-width="0.7"/>
<rect x="420.34" y="161.77" width="3.32" height="3.32" fill="#fff" stroke="#000" stroke-width="0.7"/>
<rect x="426.16" y="198.18" width="3.32" height="3.32" fill="#fff" stroke="#000" stroke-width="0.7"/>
<rect x="431.98" y="180.47" width="3.32" height="3.32" fill="#fff" stroke="#000" stroke-width="0.7"/>
</svg>
</body></html>
